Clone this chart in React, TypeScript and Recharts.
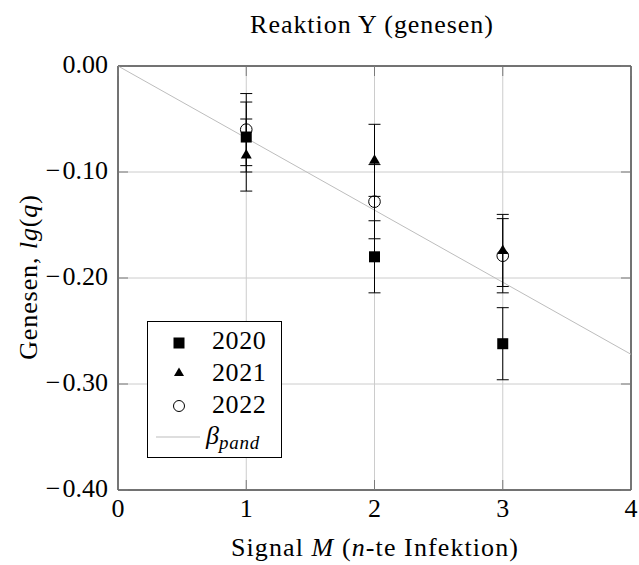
import React from 'react';
import {
  ComposedChart,
  Scatter,
  Line,
  XAxis,
  YAxis,
  CartesianGrid,
  ErrorBar,
  ReferenceArea,
  Legend,
} from 'recharts';

// ---------- data ----------
const signals = [1, 2, 3];
const values2020 = [-0.067, -0.18, -0.262];
const values2021 = [-0.084, -0.089, -0.174];
const values2022 = [-0.06, -0.128, -0.179];
const errors2020 = [0.033, 0.034, 0.034];
const errors2021 = [0.034, 0.034, 0.034];
const errors2022 = [0.034, 0.035, 0.035];
const betaX = [0, 4];
const betaY = [0, -0.272];
const xTicks = [0, 1, 2, 3, 4];
const yTicks = [-0.4, -0.3, -0.2, -0.1, 0];
const seriesNames = ['2020', '2021', '2022'];
const titleText = 'Reaktion Y (genesen)';

const d2020 = signals.map((x, i) => ({ x, y: values2020[i], err: errors2020[i] }));
const d2021 = signals.map((x, i) => ({ x, y: values2021[i], err: errors2021[i] }));
const d2022 = signals.map((x, i) => ({ x, y: values2022[i], err: errors2022[i] }));
const betaData = betaX.map((x, i) => ({ x, y: betaY[i] }));

// ---------- layout ----------
const W = 639;
const H = 565;
const PLOT_L = 118;
const PLOT_R = 631;
const PLOT_T = 66;
const PLOT_B = 490;
const FONT = 'Liberation Serif, Times New Roman, serif';
const FS = 26;
const TICK_LEN = 10;
const TICK_COLOR = '#7a7a7a';
const GRID_COLOR = '#cccccc';
const BETA_COLOR = '#bdbdbd';

const SquareShape = (p: any) => (
  <rect x={p.cx - 5.5} y={p.cy - 5.5} width={11} height={11} fill="#000" />
);
const TriangleShape = (p: any) => (
  <path d={`M${p.cx},${p.cy - 6} L${p.cx + 5.5},${p.cy + 3.5} L${p.cx - 5.5},${p.cy + 3.5} Z`} fill="#000" />
);
const CircleShape = (p: any) => (
  <circle cx={p.cx} cy={p.cy} r={5.8} fill="none" stroke="#000" strokeWidth={1} />
);

const YTick = (p: any) => {
  const y = p.y;
  const v: number = p.payload.value;
  const neg = v < 0;
  return (
    <g>
      <line x1={PLOT_L} x2={PLOT_L + TICK_LEN} y1={y} y2={y} stroke={TICK_COLOR} strokeWidth={1} />
      <line x1={PLOT_R - TICK_LEN} x2={PLOT_R} y1={y} y2={y} stroke={TICK_COLOR} strokeWidth={1} />
      <text x={PLOT_L - 10} y={y + 6.5} textAnchor="end" style={{ fontFamily: FONT }} fontSize={FS} fill="#000">
        {neg ? <tspan>{'\u2212'}</tspan> : null}
        <tspan dx={neg ? 2 : 0}>{Math.abs(v).toFixed(2)}</tspan>
      </text>
    </g>
  );
};

const XTick = (p: any) => {
  const x = p.x;
  return (
    <g>
      <line x1={x} x2={x} y1={PLOT_B} y2={PLOT_B - TICK_LEN} stroke={TICK_COLOR} strokeWidth={1} />
      <line x1={x} x2={x} y1={PLOT_T} y2={PLOT_T + TICK_LEN} stroke={TICK_COLOR} strokeWidth={1} />
      <text x={x} y={PLOT_B + 27} textAnchor="middle" style={{ fontFamily: FONT }} fontSize={FS} fill="#000">
        {String(p.payload.value)}
      </text>
    </g>
  );
};

const LG_W = 135;
const LG_H = 137;

const LegendBox = () => {
  const rows = [21, 51, 84, 115];
  const mx = 31;
  const tx = 64;
  return (
    <div
      style={{
        width: LG_W,
        height: LG_H,
        border: '1px solid #000',
        background: '#fff',
        boxSizing: 'border-box',
      }}
    >
      <svg width={LG_W - 2} height={LG_H - 2} style={{ display: 'block' }}>
        <rect x={mx - 5.5} y={rows[0] - 5.5} width={11} height={11} fill="#000" />
        <path d={`M${mx},${rows[1] - 5.5} L${mx + 5},${rows[1] + 3} L${mx - 5},${rows[1] + 3} Z`} fill="#000" />
        <circle cx={mx} cy={rows[2]} r={5.5} fill="none" stroke="#000" />
        <line x1={8} x2={52} y1={rows[3]} y2={rows[3]} stroke={BETA_COLOR} strokeWidth={1} />
        {seriesNames.map((n, i) => (
          <text
            key={n}
            x={tx}
            y={[27, 59, 91][i]}
            style={{ fontFamily: FONT, letterSpacing: '0.6px' }}
            fontSize={FS}
            fill="#000"
          >
            {n}
          </text>
        ))}
        <text x={58} y={122} style={{ fontFamily: FONT }} fontSize={FS} fill="#000" fontStyle="italic">
          β
          <tspan fontSize={19} dy={5} style={{ letterSpacing: '0.8px' }}>pand</tspan>
        </text>
      </svg>
    </div>
  );
};

export default function App() {
  return (
    <div style={{ position: 'absolute', left: 0, top: 0, width: W, height: H, background: '#fff', fontFamily: FONT }}>
      <ComposedChart
        width={W}
        height={H}
        margin={{ top: PLOT_T, right: W - PLOT_R, bottom: 0, left: 0 }}
        style={{ fontFamily: FONT }}
      >
        <CartesianGrid stroke={GRID_COLOR} strokeWidth={1} />
        <XAxis
          dataKey="x"
          type="number"
          domain={[0, 4]}
          ticks={xTicks}
          axisLine={false}
          tickLine={false}
          tickSize={0}
          tick={<XTick />}
          height={H - PLOT_B}
          allowDataOverflow
        />
        <YAxis
          type="number"
          domain={[-0.4, 0]}
          ticks={yTicks}
          axisLine={false}
          tickLine={false}
          tickSize={0}
          tick={<YTick />}
          width={PLOT_L}
          allowDataOverflow
        />
        <Line
          data={betaData}
          dataKey="y"
          type="linear"
          stroke={BETA_COLOR}
          strokeWidth={1}
          dot={false}
          activeDot={false}
          isAnimationActive={false}
          legendType="none"
        />
        <Scatter data={d2020} dataKey="y" name="2020" shape={SquareShape} isAnimationActive={false}>
          <ErrorBar dataKey="err" direction="y" width={6} stroke="#000" strokeWidth={1} isAnimationActive={false} />
        </Scatter>
        <Scatter data={d2021} dataKey="y" name="2021" shape={TriangleShape} isAnimationActive={false}>
          <ErrorBar dataKey="err" direction="y" width={6} stroke="#000" strokeWidth={1} isAnimationActive={false} />
        </Scatter>
        <Scatter data={d2022} dataKey="y" name="2022" shape={CircleShape} isAnimationActive={false}>
          <ErrorBar dataKey="err" direction="y" width={6} stroke="#000" strokeWidth={1} isAnimationActive={false} />
        </Scatter>
        <ReferenceArea x1={0} x2={4} y1={-0.4} y2={0} fill="none" stroke="#000" strokeWidth={1} ifOverflow="visible" />
        <Legend
          layout="vertical"
          align="center"
          verticalAlign="middle"
          content={<LegendBox />}
          wrapperStyle={{ left: 147, top: 321, width: LG_W, height: LG_H }}
        />
        <text
          x={372}
          y={33}
          textAnchor="middle"
          style={{ fontFamily: FONT, letterSpacing: '0.95px' }}
          fontSize={FS}
          fill="#000"
        >
          {titleText}
        </text>
        <text
          x={375}
          y={556}
          textAnchor="middle"
          style={{ fontFamily: FONT, letterSpacing: '1.1px' }}
          fontSize={FS}
          fill="#000"
        >
          Signal <tspan fontStyle="italic">M</tspan> (<tspan fontStyle="italic">n</tspan>-te Infektion)
        </text>
        <text
          x={37}
          y={277}
          transform="rotate(-90, 37, 277)"
          textAnchor="middle"
          style={{ fontFamily: FONT, letterSpacing: '0.9px' }}
          fontSize={FS}
          fill="#000"
        >
          Genesen, <tspan fontStyle="italic">lg</tspan>(<tspan fontStyle="italic">q</tspan>)
        </text>
      </ComposedChart>
    </div>
  );
}
